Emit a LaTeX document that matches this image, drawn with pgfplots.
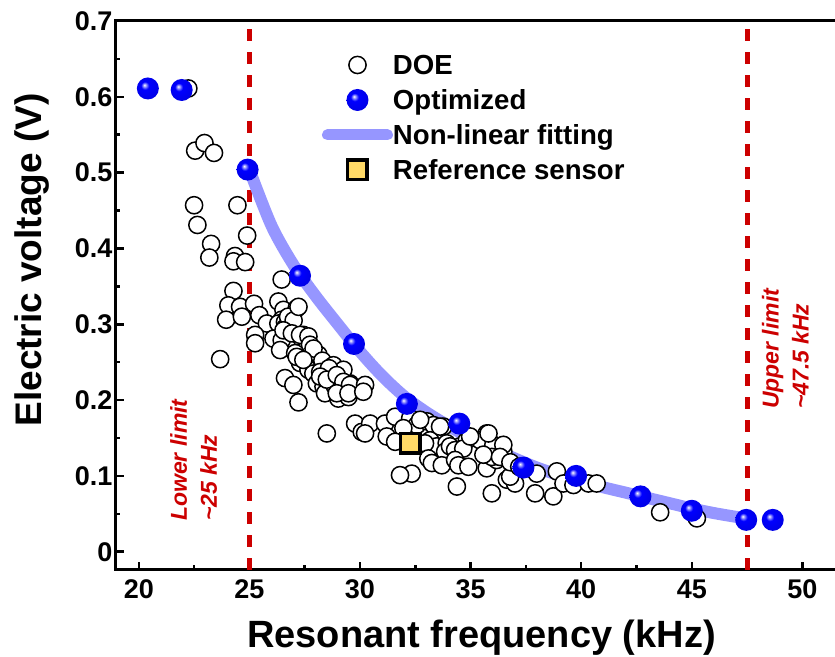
\documentclass[border=0pt]{standalone}
\usepackage{fontspec}
\setmainfont{Liberation Sans}
\usepackage{pgfplots}
\usepackage{pgfplotstable}
\pgfplotsset{compat=1.18}
\usetikzlibrary{plotmarks}

\definecolor{limitred}{RGB}{204,0,0}
\definecolor{fitblue}{RGB}{150,150,255}
\definecolor{refyellow}{RGB}{255,217,102}

% shaded sphere for the optimized designs
\pgfdeclareradialshading{optball}{\pgfpoint{-8bp}{8bp}}{color(0bp)=(white); color(3bp)=(blue!35!white); color(9bp)=(blue); color(25bp)=(blue!92!black); color(50bp)=(blue!80!black)}
\pgfdeclareplotmark{optball}{\pgfpathcircle{\pgfpointorigin}{\pgfplotmarksize}\pgfshadepath{optball}{0}\pgfusepath{discard}}

\pgfplotstableread{
x y
22.24 0.611
22.55 0.529
22.97 0.539
23.40 0.526
22.50 0.457
22.65 0.431
23.27 0.406
23.19 0.388
24.46 0.457
24.90 0.417
24.35 0.390
24.28 0.383
24.81 0.382
26.46 0.359
24.28 0.344
24.05 0.325
24.58 0.323
25.21 0.327
23.95 0.306
24.66 0.310
25.45 0.312
25.79 0.301
26.31 0.330
26.54 0.319
27.14 0.321
26.46 0.306
26.84 0.299
27.44 0.286
27.65 0.279
23.68 0.254
26.31 0.301
26.61 0.303
26.92 0.299
26.60 0.295
26.75 0.310
27.00 0.305
26.50 0.285
26.70 0.270
27.50 0.265
25.26 0.286
25.26 0.275
26.09 0.281
26.46 0.279
26.54 0.292
26.92 0.288
27.29 0.286
27.67 0.284
27.74 0.273
26.39 0.266
27.07 0.262
28.12 0.260
27.90 0.268
28.30 0.252
27.29 0.249
27.67 0.240
27.89 0.235
28.20 0.237
28.80 0.246
28.50 0.233
29.18 0.233
26.61 0.229
26.99 0.220
28.05 0.222
28.35 0.218
28.42 0.209
28.87 0.218
29.18 0.213
29.55 0.222
29.02 0.202
29.48 0.204
27.22 0.197
29.25 0.240
28.60 0.242
27.22 0.323
27.14 0.257
27.44 0.253
28.20 0.231
28.50 0.227
28.95 0.233
29.25 0.224
29.55 0.220
30.23 0.220
28.95 0.209
29.48 0.209
30.15 0.211
28.50 0.156
29.78 0.169
30.08 0.158
30.46 0.169
31.13 0.169
31.21 0.152
31.59 0.178
32.27 0.176
32.57 0.167
33.02 0.172
33.32 0.167
33.77 0.165
33.17 0.147
33.47 0.139
33.92 0.143
34.52 0.139
34.83 0.147
30.23 0.156
31.96 0.163
31.59 0.145
32.72 0.174
33.62 0.165
32.94 0.143
33.85 0.132
34.07 0.139
34.30 0.134
34.67 0.136
33.09 0.123
33.25 0.117
33.70 0.114
34.30 0.121
34.45 0.114
34.90 0.112
35.73 0.110
36.18 0.121
36.48 0.132
35.73 0.156
35.43 0.147
36.03 0.141
36.48 0.141
32.34 0.103
31.81 0.101
34.38 0.086
35.96 0.077
36.64 0.095
37.01 0.090
37.92 0.077
34.98 0.152
35.81 0.156
35.96 0.125
35.58 0.128
36.33 0.125
36.79 0.099
36.80 0.118
37.20 0.112
37.99 0.103
38.74 0.073
38.90 0.106
39.20 0.090
39.65 0.088
40.33 0.090
40.70 0.090
43.57 0.052
45.23 0.044
}\doedata

\pgfplotstableread{
x y
20.41 0.611
21.94 0.609
24.92 0.504
27.29 0.364
29.73 0.274
32.12 0.195
34.49 0.169
37.39 0.111
39.77 0.100
42.68 0.073
45.00 0.054
47.46 0.042
48.66 0.042
}\optdata

\pgfplotsset{
  doe/.style={only marks, mark=*, mark size=8.6pt,
    mark options={fill=white, draw=black, line width=1.5pt},
    legend image code/.code={\draw[##1] plot coordinates {(35.5pt,0pt)};}},
  opt/.style={only marks, mark=optball, mark size=11pt,
    legend image code/.code={\draw[##1] plot coordinates {(35.5pt,0pt)};}},
  fit/.style={fitblue, line width=12pt, line cap=round, no marks,
    legend image code/.code={\draw[##1, line width=11pt] (5.5pt,0pt) -- (65.5pt,0pt);}},
  ref/.style={only marks, mark=square*, mark size=9.75pt,
    mark options={fill=refyellow, draw=black, line width=3.5pt},
    legend image code/.code={\draw[##1] plot coordinates {(35.5pt,0pt)};}},
}

\begin{document}
\begin{tikzpicture}
\begin{axis}[
  scale only axis, width=720pt, height=549pt,
  xmin=18.97, xmax=51.52, ymin=-0.0241, ymax=0.7,
  axis line style={line width=3pt},
  xtick={20,25,30,35,40,45,50},
  ytick={0,0.1,0.2,0.3,0.4,0.5,0.6,0.7},
  minor x tick num=1, minor y tick num=1,
  xtick pos=bottom, ytick pos=left,
  tick align=inside,
  major tick length=8pt, minor tick length=4.5pt,
  every tick/.style={black, line width=2.5pt},
  tick label style={font=\fontsize{27}{32}\selectfont\bfseries},
  /pgf/number format/assume math mode=true,
  xticklabel style={yshift=-6pt},
  xlabel={Resonant frequency (kHz)},
  ylabel={Electric voltage (V)},
  xlabel style={font=\fontsize{38}{46}\selectfont\bfseries,
    at={(rel axis cs:0.5076,-0.142)}, anchor=base},
  ylabel style={font=\fontsize{37}{44}\selectfont\bfseries,
    at={(rel axis cs:-0.1028,0.5647)}, anchor=base},
  legend style={draw=none, fill=none, inner sep=0pt, outer sep=0pt,
    at={(axis description cs:0.2861,0.9454)}, anchor=north west,
    font=\fontsize{27.6}{32}\selectfont\bfseries,
    row sep=7pt, cells={anchor=west},
    nodes={inner sep=0pt, text height=23.5pt, text depth=4.5pt},
    /tikz/every even column/.append style={column sep=8pt}},
]
% limits
\addplot[forget plot, limitred, line width=5pt, dash pattern=on 12pt off 11pt]
  coordinates {(25,-0.0241) (25,0.7)};
\addplot[forget plot, limitred, line width=5pt, dash pattern=on 12pt off 11pt]
  coordinates {(47.5,-0.0241) (47.5,0.7)};
% fitting curve
\addplot[fit, forget plot, smooth] coordinates {
  (25,0.504) (26,0.430) (27,0.378) (28,0.337) (29,0.300) (30,0.264)
  (31,0.232) (32,0.205) (33,0.184) (34,0.166) (35,0.150) (36,0.136)
  (37,0.123) (38,0.111) (39,0.101) (40,0.093) (41,0.085) (42,0.078)
  (43,0.071) (44,0.064) (45,0.057) (46,0.051) (47,0.046) (47.5,0.044)};
\addplot[doe, forget plot] table {\doedata};
\addplot[opt, forget plot] table {\optdata};
\addplot[ref, forget plot] coordinates {(32.27,0.143)};

\addlegendimage{doe}\addlegendentry{DOE}
\addlegendimage{opt}\addlegendentry{Optimized}
\addlegendimage{fit}\addlegendentry{Non-linear fitting}
\addlegendimage{ref}\addlegendentry{Reference sensor}

\node[rotate=90, anchor=north west, inner sep=0pt, align=left, text=limitred,
  font=\fontsize{23}{30}\selectfont\bfseries\itshape]
  at (axis cs:21.415,0.0405) {Lower limit\\\textasciitilde 25 kHz};
\node[rotate=90, anchor=north west, inner sep=0pt, align=left, text=limitred,
  font=\fontsize{23}{30}\selectfont\bfseries\itshape]
  at (axis cs:48.165,0.188) {Upper limit\\\textasciitilde 47.5 kHz};
\end{axis}
\pgfresetboundingbox
\path[use as bounding box] ([shift={(-116pt,-87pt)}]current axis.south west)
  rectangle ([shift={(-1pt,21pt)}]current axis.north east);
\end{tikzpicture}
\end{document}
